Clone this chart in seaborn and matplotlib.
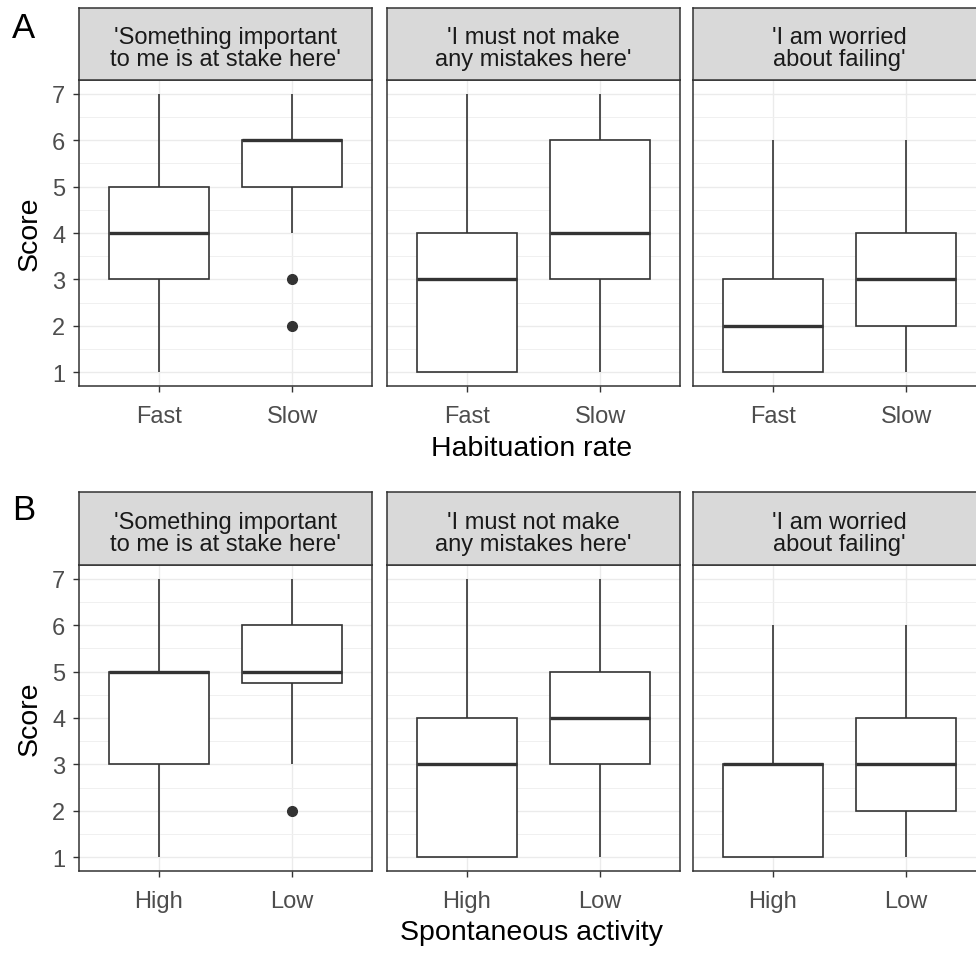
import matplotlib
matplotlib.use("Agg")
import matplotlib.pyplot as plt
from matplotlib.ticker import MultipleLocator
import seaborn as sns
import pandas as pd

sns.set_theme(style="white")
plt.rcParams["font.family"] = ["Liberation Sans", "DejaVu Sans"]

# Item wording shown in the facet strips
items = [
    "'Something important\nto me is at stake here'",
    "'I must not make\nany mistakes here'",
    "'I am worried\nabout failing'",
]

# Panel A: habituation rate groups
hab_levels = ["Fast", "Slow"]
hab_fast_item1 = [1, 3, 3, 4, 4, 5, 5, 7]
hab_slow_item1 = [2, 3, 4, 5, 5, 5, 6, 6, 6, 6, 6, 6, 7]
hab_fast_item2 = [1, 1, 1, 2, 3, 3, 4, 5, 7]
hab_slow_item2 = [1, 2, 3, 4, 4, 5, 6, 7, 7]
hab_fast_item3 = [1, 1, 1, 2, 2, 3, 3, 4, 6]
hab_slow_item3 = [1, 2, 2, 3, 3, 4, 4, 5, 6]

# Panel B: spontaneous activity groups
act_levels = ["High", "Low"]
act_high_item1 = [1, 2, 3, 4, 5, 5, 5, 6, 7]
act_low_item1 = [2, 3, 4, 5, 5, 5, 5, 6, 6, 6, 7, 7]
act_high_item2 = [1, 1, 1, 2, 3, 3, 4, 5, 7]
act_low_item2 = [1, 2, 3, 4, 4, 4, 5, 6, 7]
act_high_item3 = [1, 1, 1, 2, 3, 3, 3, 4, 6]
act_low_item3 = [1, 2, 2, 3, 3, 4, 4, 5, 6]


def long_frame(levels, groups):
    rows = []
    for i, (a, b) in enumerate(groups):
        rows += [(i, levels[0], v) for v in a]
        rows += [(i, levels[1], v) for v in b]
    return pd.DataFrame(rows, columns=["item", "group", "score"])


df_a = long_frame(hab_levels, [(hab_fast_item1, hab_slow_item1),
                               (hab_fast_item2, hab_slow_item2),
                               (hab_fast_item3, hab_slow_item3)])
df_b = long_frame(act_levels, [(act_high_item1, act_low_item1),
                               (act_high_item2, act_low_item2),
                               (act_high_item3, act_low_item3)])

W, H = 976, 954
fig = plt.figure(figsize=(W / 100, H / 100), dpi=100)

DARK = "#333333"
TXT = "#4D4D4D"
GRID = "#EBEBEB"

panel_x = [79, 387, 693]
panel_w = 293
rows = [
    dict(df=df_a, levels=hab_levels, title="Habituation rate", tag="A",
         strip_top=9, panel_top=81, panel_bot=387, title_y=449, tag_y=28),
    dict(df=df_b, levels=act_levels, title="Spontaneous activity", tag="B",
         strip_top=493, panel_top=566, panel_bot=872, title_y=933, tag_y=510),
]


def fx(px):
    return px / W


def fy(py):
    return 1 - py / H


for r in rows:
    for j in range(3):
        x0 = panel_x[j]
        ax = fig.add_axes([fx(x0), fy(r["panel_bot"]), panel_w / W,
                           (r["panel_bot"] - r["panel_top"]) / H])
        sub = r["df"][r["df"]["item"] == j]
        sns.boxplot(data=sub, x="group", y="score", order=r["levels"], ax=ax,
                    color="white", linecolor=DARK, linewidth=1.2, width=0.75,
                    showcaps=False, saturation=1,
                    medianprops=dict(linewidth=2.4, color=DARK),
                    flierprops=dict(marker="o", markerfacecolor=DARK,
                                    markeredgecolor=DARK, markersize=7))
        ax.set_xlim(-0.6, 1.6)
        ax.set_ylim(0.7, 7.3)
        ax.yaxis.set_major_locator(MultipleLocator(1))
        ax.yaxis.set_minor_locator(MultipleLocator(0.5))
        ax.set_axisbelow(True)
        ax.grid(which="major", axis="both", color=GRID, linewidth=1.0)
        ax.grid(which="minor", axis="y", color="#F0F0F0", linewidth=0.7)
        for s in ax.spines.values():
            s.set_visible(True)
            s.set_color(DARK)
            s.set_linewidth(1.1)
        ax.set_xlabel("")
        ax.set_ylabel("")
        ax.tick_params(axis="x", which="major", bottom=True, length=4.3,
                       width=1.0, color=DARK, labelsize=17, labelcolor=TXT, pad=9.5)
        ax.tick_params(axis="y", which="minor", left=False)
        if j == 0:
            ax.tick_params(axis="y", which="major", left=True, length=4.3,
                           width=1.0, color=DARK, labelsize=17, labelcolor=TXT, pad=5.5)
        else:
            ax.tick_params(axis="y", which="major", left=False, labelleft=False)

        # facet strip
        sax = fig.add_axes([fx(x0), fy(r["panel_top"]), panel_w / W,
                            (r["panel_top"] - r["strip_top"]) / H])
        sax.set_facecolor("#D9D9D9")
        sax.set_xticks([])
        sax.set_yticks([])
        for s in sax.spines.values():
            s.set_color(DARK)
            s.set_linewidth(1.1)
        sax.text(0.5, 0.44, items[j], ha="center", va="center", fontsize=17,
                 color="#1A1A1A", linespacing=1.0, transform=sax.transAxes)

    mid = (r["panel_top"] + r["panel_bot"]) / 2
    fig.text(fx(30), fy(mid), "Score", rotation=90, ha="center", va="center",
             fontsize=20.5, color="black")
    fig.text(fx(532), fy(r["title_y"]), r["title"], ha="center", va="center",
             fontsize=20.5, color="black")
    fig.text(fx(24), fy(r["tag_y"]), r["tag"], ha="center", va="center",
             fontsize=25, color="black")

fig.savefig("out.png", dpi=100)
